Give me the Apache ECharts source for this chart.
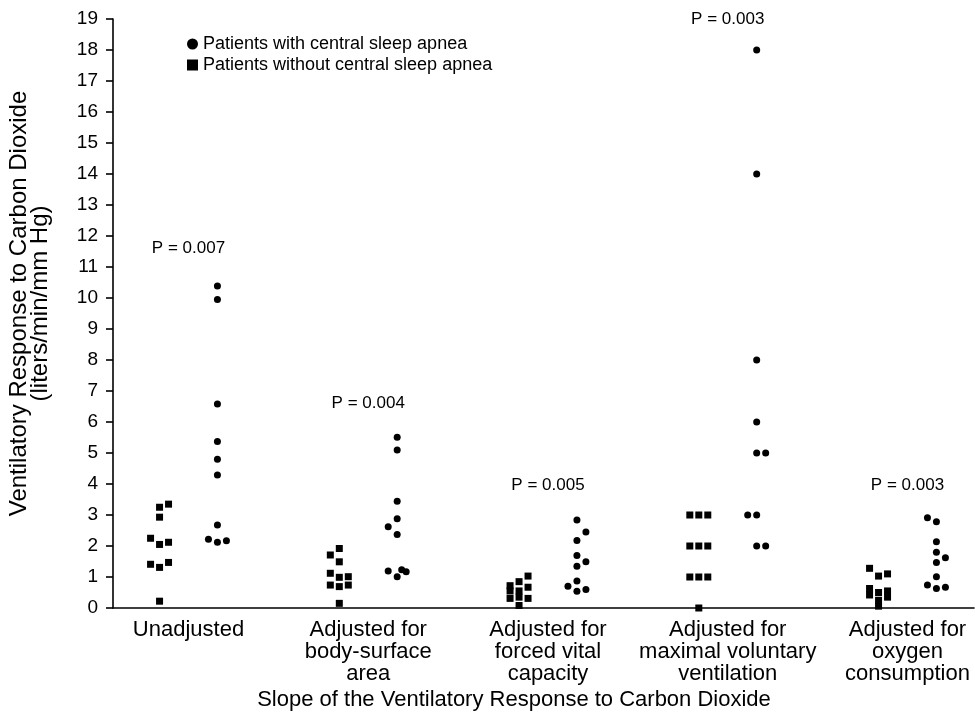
<!DOCTYPE html>
<html>
<head>
<meta charset="utf-8">
<script src="https://cdn.jsdelivr.net/npm/echarts@6/dist/echarts.min.js"></script>
<style>
  html, body { margin: 0; padding: 0; background: #fff; }
  #main { width: 975px; height: 728px; }
</style>
</head>
<body>
<div id="main"></div>
<script>
// categories along the x axis
var groups = [
  "Unadjusted",
  "Adjusted for\nbody-surface\narea",
  "Adjusted for\nforced vital\ncapacity",
  "Adjusted for\nmaximal voluntary\nventilation",
  "Adjusted for\noxygen\nconsumption"
];
var pValues = ["P = 0.007", "P = 0.004", "P = 0.005", "P = 0.003", "P = 0.003"];
var pLabelY = [11.6, 6.6, 3.95, 19.0, 3.95];

// patients without central sleep apnea (squares), per group
var noCsa1 = [3.25, 3.35, 2.93, 2.25, 2.05, 2.12, 1.41, 1.31, 1.47, 0.22];
var noCsa2 = [1.92, 1.71, 1.49, 1.12, 0.99, 1.01, 0.74, 0.69, 0.74, 0.15];
var noCsa3 = [1.03, 0.85, 0.72, 0.67, 0.55, 0.55, 0.31, 0.35, 0.31, 0.08];
var noCsa4 = [3, 3, 3, 2, 2, 2, 1, 1, 1, 0];
var noCsa5 = [1.28, 1.03, 1.10, 0.63, 0.42, 0.50, 0.25, 0.06, 0.55, 0.35];
// jitter column of each square (-1 left, 0 middle, 1 right)
var noCsaCol1 = [0, 1, 0, -1, 0, 1, -1, 0, 1, 0];
var noCsaCol2 = [0, -1, 0, -1, 0, 1, -1, 0, 1, 0];
var noCsaCol3 = [1, 0, -1, 1, -1, 0, -1, 0, 1, 0];
var noCsaCol4 = [-1, 0, 1, -1, 0, 1, -1, 0, 1, 0];
var noCsaCol5 = [-1, 0, 1, -1, -1, 0, 0, 0, 1, 1];

// patients with central sleep apnea (circles), per group
var csa1 = [10.39, 9.95, 6.58, 5.37, 4.80, 4.29, 2.68, 2.22, 2.12, 2.17];
var csa2 = [5.51, 5.10, 3.44, 2.88, 2.62, 2.37, 1.19, 1.01, 1.23, 1.17];
var csa3 = [2.84, 2.45, 2.18, 1.69, 1.49, 1.35, 0.87, 0.70, 0.54, 0.60];
var csa4 = [18, 14, 8, 6, 5, 5, 3, 3, 2, 2];
var csa5 = [2.91, 2.78, 2.14, 1.80, 1.62, 1.47, 1.01, 0.74, 0.63, 0.67];
var csaCol1 = [0, 0, 0, 0, 0, 0, 0, -1, 0, 1];
var csaCol2 = [0, 0, 0, 0, -1, 0, -1, 0, 0.5, 1];
var csaCol3 = [0, 1, 0, 0, 1, 0, 0, -1, 0, 1];
var csaCol4 = [0, 0, 0, 0, 0, 1, -1, 0, 0, 1];
var csaCol5 = [-1, 0, 0, 0, 1, 0, 0, -1, 0, 1];

var FONT = "'Liberation Sans', Arial, sans-serif";
var SIDE = 0.161;   // offset of each patient column from group centre
var STEP = 0.05;    // jitter step inside a column

function build(valueLists, colLists, side) {
  var out = [];
  valueLists.forEach(function(vals, g) {
    vals.forEach(function(v, i) {
      out.push([g + side + colLists[g][i] * STEP, v]);
    });
  });
  return out;
}

var squares = build([noCsa1, noCsa2, noCsa3, noCsa4, noCsa5],
  [noCsaCol1, noCsaCol2, noCsaCol3, noCsaCol4, noCsaCol5], -SIDE);
var circles = build([csa1, csa2, csa3, csa4, csa5],
  [csaCol1, csaCol2, csaCol3, csaCol4, csaCol5], SIDE);
var pPoints = pValues.map(function(p, g) {
  return { name: p, value: [g, pLabelY[g]] };
});

var myChart = echarts.init(document.getElementById("main"));
var option = {
  animation: false,
  backgroundColor: "#fff",
  textStyle: { fontFamily: FONT, color: "#000" },
  grid: { left: 113, right: 1, top: 19, bottom: 120, outerBoundsMode: "none", containLabel: false },
  legend: {
    orient: "vertical",
    left: 182,
    top: 30,
    itemGap: 3,
    itemWidth: 11,
    itemHeight: 11,
    textStyle: { fontFamily: FONT, fontSize: 18, color: "#000" },
    data: [
      { name: "Patients with central sleep apnea", icon: "circle" },
      { name: "Patients without central sleep apnea", icon: "rect" }
    ]
  },
  xAxis: {
    type: "value",
    min: -0.42,
    max: 4.37,
    splitLine: { show: false },
    axisTick: { show: false },
    axisLine: { onZero: false, lineStyle: { color: "#000", width: 1.6 } },
    axisLabel: {
      customValues: [0, 1, 2, 3, 4],
      formatter: function(v) { return groups[Math.round(v)]; },
      color: "#000",
      fontFamily: FONT,
      fontSize: 22,
      lineHeight: 22,
      margin: 11
    }
  },
  yAxis: {
    type: "value",
    min: 0,
    max: 19,
    interval: 1,
    splitLine: { show: false },
    axisLine: { show: true, onZero: false, lineStyle: { color: "#000", width: 1.6 } },
    axisTick: { show: true, inside: false, length: 7, lineStyle: { color: "#000", width: 1.6 } },
    axisLabel: { color: "#000", fontFamily: FONT, fontSize: 19, margin: 15 },
    name: "Ventilatory Response to Carbon Dioxide\n(liters/min/mm Hg)",
    nameLocation: "middle",
    nameGap: 62,
    nameTextStyle: {
      fontFamily: FONT, fontSize: 24, lineHeight: 21, color: "#000",
      padding: [0, 0, 0, 20]
    }
  },
  graphic: [{
    type: "text",
    x: 514,
    y: 700,
    style: {
      text: "Slope of the Ventilatory Response to Carbon Dioxide",
      font: "22px " + FONT,
      fill: "#000",
      align: "center",
      verticalAlign: "middle"
    }
  }],
  series: [
    {
      name: "Patients without central sleep apnea",
      type: "scatter",
      symbol: "rect",
      symbolSize: 7,
      itemStyle: { color: "#000", opacity: 1 },
      data: squares
    },
    {
      name: "Patients with central sleep apnea",
      type: "scatter",
      symbol: "circle",
      symbolSize: 7,
      itemStyle: { color: "#000", opacity: 1 },
      data: circles
    },
    {
      type: "scatter",
      symbolSize: 0,
      silent: true,
      itemStyle: { opacity: 1 },
      label: {
        show: true,
        position: "inside",
        formatter: function(p) { return p.name; },
        color: "#000",
        fontFamily: FONT,
        fontSize: 17
      },
      data: pPoints
    }
  ]
};
myChart.setOption(option);
</script>
</body>
</html>
